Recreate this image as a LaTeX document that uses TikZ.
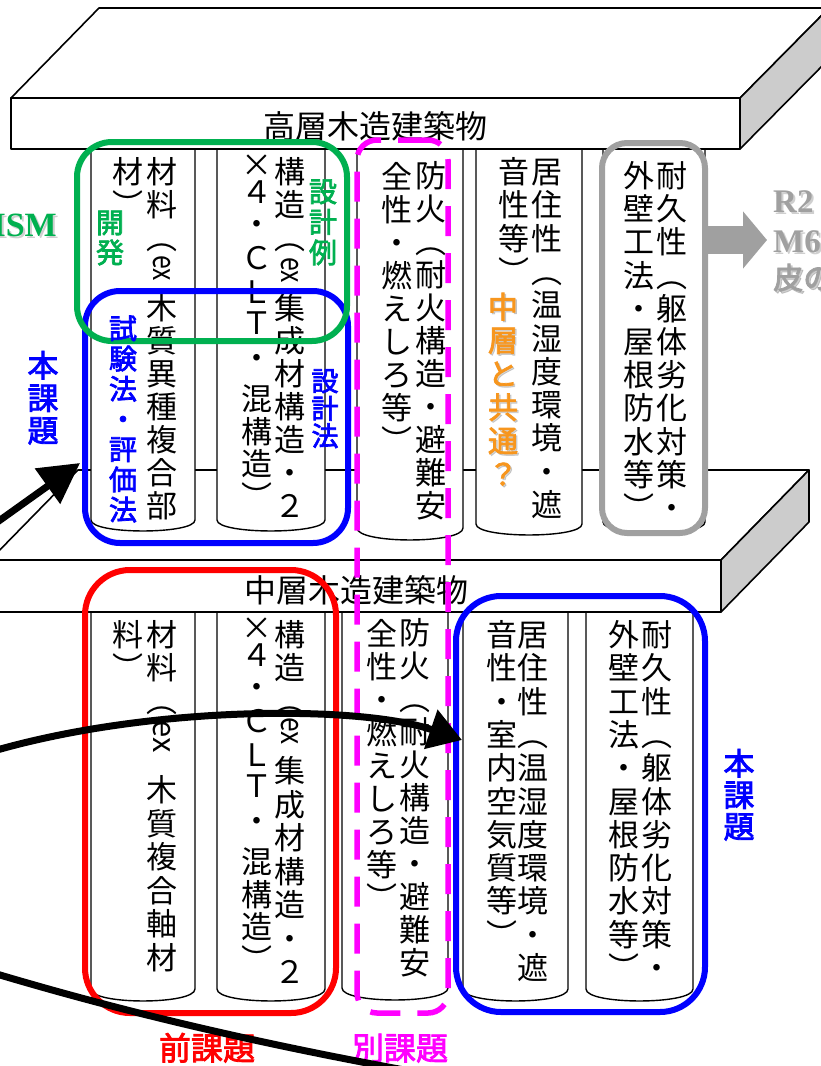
\documentclass[tikz,border=0pt]{standalone}
\usepackage{fontspec}
\setmainfont{Liberation Serif}
\newfontfamily\jp{Noto Sans CJK JP}
\newfontfamily\jpb[FakeBold=2.6]{Noto Sans CJK JP}
\usetikzlibrary{arrows.meta}
\definecolor{cgreen}{RGB}{0,176,80}
\definecolor{cblue}{RGB}{0,0,255}
\definecolor{cred}{RGB}{255,0,0}
\definecolor{cmag}{RGB}{255,0,255}
\definecolor{corange}{RGB}{247,150,30}
\definecolor{cgrey}{RGB}{160,160,160}
\definecolor{cside}{RGB}{204,204,204}
\definecolor{cshadow}{RGB}{120,120,120}
\newcommand\vcol[6]{\foreach \chr [count=\i] in {#6}{\node[#5, name=#1-\i] at (#2,{#3+#4*(\i-1)}) {\chr};}}
\newcommand\vcolxy[4]{\foreach \chr/\yy [count=\i] in {#4}{\node[#3, name=#1-\i] at (#2,\yy) {\chr};}}
\newcommand\book[5]{\draw[bookline] (#1,#3) -- (#1,#4) .. controls (#1,{#4+1.33*(#5-#4)}) and (#2,{#4+1.33*(#5-#4)}) .. (#2,#4) -- (#2,#3);}
\begin{document}
\begin{tikzpicture}[x=1pt,y=-1pt,
  slab/.style={draw=black,line width=1.6pt,fill=white,line join=round},
  sideface/.style={draw=black,line width=1.6pt,fill=cside,line join=round},
  bookline/.style={draw=black,line width=1.4pt,fill=white},
  vchar/.style={font=\jp\fontsize{31}{31}\selectfont,inner sep=0pt,text height=26pt,text depth=3pt},
  vlab/.style={font=\jpb\fontsize{28}{28}\selectfont,inner sep=0pt,text height=23pt,text depth=3pt,text=#1},
  exnode/.style={font=\jp\fontsize{31}{31}\selectfont,inner sep=0pt,rotate=-90},
  cbox/.style={draw=#1,line width=6pt,inner sep=0pt,outer sep=0pt},
  bigline/.style={draw=black,line width=7pt},
  slabtext/.style={font=\jp\fontsize{32}{32}\selectfont,inner sep=0pt,text height=27pt,text depth=3pt},
  hlab/.style={font=\jpb\fontsize{32}{32}\selectfont,inner sep=0pt,text height=27pt,text depth=3pt,text=#1}
]
\useasboundingbox (0,0) rectangle (821,1066);
\clip (0,0) rectangle (821,1066);
\fill[white] (0,0) rectangle (821,1066);

% lower slab: top and side faces
\draw[slab] (-10,560) -- (78,470) -- (809,470) -- (721,560) -- cycle;
\draw[sideface] (721,560) -- (809,470) -- (809,522) -- (721,612) -- cycle;

% upper books
\book{91}{195}{149}{520}{531}
\book{217}{325}{149}{520}{531}
\book{357}{463}{149}{528}{540}
\book{476}{582}{149}{524}{535}
\book{603}{705}{149}{522}{533}

% top slab
\draw[slab] (11,98) -- (99,8) -- (829,8) -- (740,98) -- cycle;
\draw[sideface] (740,98) -- (829,8) -- (829,59) -- (740,149) -- cycle;
\draw[slab] (11,98) rectangle (740,149);
\node[slabtext] (t1) at (375,126) {高層木造建築物};

% lower books
\book{91}{195}{611}{989}{1001}
\book{217}{325}{611}{989}{1001}
\book{342}{448}{611}{988}{1000}
\book{463}{568}{611}{989}{1001}
\book{586}{693}{611}{989}{1001}

% lower slab front
\draw[slab] (-10,560) rectangle (721,612);
\node[slabtext] (t2) at (356,590) {中層木造建築物};

% ---- upper spine texts
\vcol{ub1r}{162}{172}{33}{vchar}{材,料,︵}
\node[exnode] (ub1r-ex) at (162,268) {\scalebox{0.8}[1]{ex}};
\vcol{ub1s}{162}{308}{33}{vchar}{木,質,異,種,複,合,部}
\vcol{ub1l}{128}{172}{33}{vchar}{材,︶}
\vcol{ub2r}{290}{172}{33}{vchar}{構,造,︵}
\node[exnode] (ub2r-ex) at (290,270) {\scalebox{0.8}[1]{ex}};
\vcol{ub2s}{290}{308}{33}{vchar}{集,成,材,構,造,・,２}
\vcolxy{ub2l}{257}{vchar}{×/165,４/192,・/224,Ｃ/258,Ｌ/292,Ｔ/323,・/358,混/399,構/432,造/464,︶/497}
\vcol{ub3r}{431}{176}{33}{vchar}{防,火,︵,耐,火,構,造,・,避,難,安}
\vcol{ub3l}{397}{177}{33}{vchar}{全,性,・,燃,え,し,ろ,等,︶}
\vcol{ub4r}{547}{172}{33.3}{vchar}{居,住,性,︵,温,湿,度,環,境,・,遮}
\vcol{ub4l}{514}{172}{33.3}{vchar}{音,性,等,︶}
\vcol{ub5r}{672}{176}{33.2}{vchar}{耐,久,性,︵,躯,体,劣,化,対,策,・}
\vcol{ub5l}{639}{176}{33.2}{vchar}{外,壁,工,法,・,屋,根,防,水,等,︶}

% ---- lower spine texts
\vcol{lb1r}{162}{635}{33}{vchar}{材,料,︵}
\node[exnode] (lb1r-ex) at (162,737) {ex};
\vcol{lb1s}{162}{790}{33.6}{vchar}{木,質,複,合,軸,材}
\vcol{lb1l}{128}{635}{33}{vchar}{料,︶}
\vcol{lb2r}{290}{635}{33}{vchar}{構,造,︵}
\node[exnode] (lb2r-ex) at (290,731) {\scalebox{0.85}[1]{ex}};
\vcol{lb2s}{290}{771}{33.5}{vchar}{集,成,材,構,造,・,２}
\vcolxy{lb2l}{257}{vchar}{×/628,４/655,・/687,Ｃ/721,Ｌ/755,Ｔ/786,・/821,混/862,構/895,造/927,︶/960}
\vcol{lb3r}{415}{633}{33}{vchar}{防,火,︵,耐,火,構,造,・,避,難,安}
\vcol{lb3l}{382}{634}{33}{vchar}{全,性,・,燃,え,し,ろ,等,︶}
\vcol{lb4r}{533}{635}{33.3}{vchar}{居,住,性,︵,温,湿,度,環,境,・,遮}
\vcol{lb4l}{502}{635}{33.3}{vchar}{音,性,・,室,内,空,気,質,等,︶}
\vcol{lb5r}{657}{635}{33.3}{vchar}{耐,久,性,︵,躯,体,劣,化,対,策,・}
\vcol{lb5l}{624}{635}{33.3}{vchar}{外,壁,工,法,・,屋,根,防,水,等,︶}

% ---- coloured frames
\node[cbox=cblue, rounded corners=35pt, minimum width=263pt, minimum height=252pt] (bbox1) at (216.5,417) {};
\node[cbox=cgreen, rounded corners=35pt, minimum width=270pt, minimum height=199pt] (gbox) at (212,241.5) {};
\node[cbox=cgrey, rounded corners=25pt, minimum width=103pt, minimum height=390pt] (grey) at (653.5,338) {};
\node[cbox=cmag, line width=5.5pt, dash pattern=on 30pt off 17pt, rounded corners=20pt, minimum width=91pt, minimum height=873pt] (mag) at (402.5,576.5) {};
\node[cbox=cred, rounded corners=45pt, minimum width=251pt, minimum height=443pt] (rbox) at (210.5,791.5) {};
\node[cbox=cblue, rounded corners=45pt, minimum width=249pt, minimum height=416pt] (bbox2) at (580.5,804) {};

% ---- coloured labels
\vcol{kaihatsu}{110}{223}{30}{vlab=cgreen}{開,発}
\vcol{sekkeirei}{323}{192}{30.5}{vlab=cgreen}{設,計,例}
\vcol{shiken}{123}{329}{30.2}{vlab=cblue}{試,験,法,・,評,価,法}
\vcol{sekkeiho}{325}{381}{27.5}{vlab=cblue, font=\jpb\fontsize{27}{27}\selectfont}{設,計,法}
\vcol{honkadai1}{43}{367}{32.5}{vlab=cblue, font=\jpb\fontsize{31}{31}\selectfont}{本,課,題}
\vcol{honkadai2}{739}{765}{31.5}{vlab=cblue, font=\jpb\fontsize{31}{31}\selectfont}{本,課,題}
\vcol{chusoush}{504.5}{309.5}{33.5}{vlab=cshadow, opacity=0.3, font=\jpb\fontsize{30}{30}\selectfont}{中,層,と,共,通,？}
\vcol{chusou}{503}{308}{33.5}{vlab=corange, font=\jpb\fontsize{30}{30}\selectfont}{中,層,と,共,通,？}
\node[hlab=cred] (zenkadai) at (207,1048) {前課題};
\node[hlab=cmag] (betsukadai) at (400,1048) {別課題};

% ---- side texts
\node[anchor=base east, font=\bfseries\fontsize{34}{34}\selectfont, text=cshadow, opacity=0.35, inner sep=0pt] (ism-sh) at (59,238) {ISM};
\node[anchor=base east, font=\bfseries\fontsize{34}{34}\selectfont, text=cgreen, inner sep=0pt] (ism) at (57,236) {ISM};
\begin{scope}[font=\bfseries\fontsize{33}{33}\selectfont, inner sep=0pt]
\node[anchor=base west, text=cshadow, opacity=0.35] (r2-sh) at (775,214) {R2};
\node[anchor=base west, text=cshadow, opacity=0.35] (m6-sh) at (775,254) {M6};
\node[anchor=base west, text=cshadow, opacity=0.35, font=\jpb\fontsize{30}{30}\selectfont] (hi-sh) at (775,291) {皮の};
\node[anchor=base west, text=cgrey] (r2) at (773,212) {R2};
\node[anchor=base west, text=cgrey] (m6) at (773,252) {M6};
\node[anchor=base west, text=cgrey, font=\jpb\fontsize{30}{30}\selectfont] (hi) at (773,289) {皮の};
\end{scope}

% ---- arrows
\coordinate (gtip) at (767,240);
\draw[line width=28pt, cgrey, -{Triangle[length=24pt,width=56pt]}] (grey.east |- gtip) -- (gtip);

\coordinate (a1s) at (-25,538);
\coordinate (a1t) at (80,463);
\draw[bigline, -{Triangle[length=40pt,width=42pt]}] (a1s) -- (a1t);

\coordinate (a2s) at (-10,752);
\coordinate (a2t) at (462,740);
\draw[bigline, -{Triangle[length=33pt,width=40pt]}] (a2s) .. controls (150,705) and (360,705) .. (a2t);

\coordinate (c3s) at (-10,972);
\coordinate (c3e) at (460,1080);
\draw[bigline] (c3s) .. controls (150,1020) and (300,1052) .. (c3e);
\end{tikzpicture}
\end{document}
